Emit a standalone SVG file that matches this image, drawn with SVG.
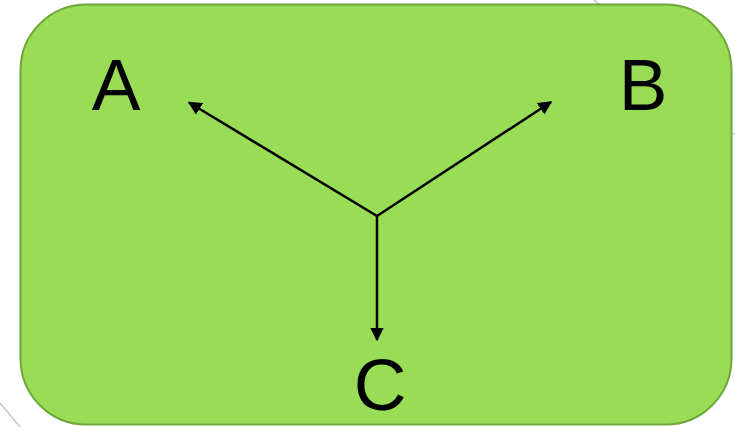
<svg xmlns="http://www.w3.org/2000/svg" width="735" height="427" viewBox="0 0 735 427">
<defs>
<style>
.lbl{font-family:"Liberation Sans",Arial,sans-serif;font-size:73px;fill:#000;text-anchor:middle}
.conn{stroke:#000;stroke-width:2.5;fill:none;marker-end:url(#ah)}
.bg{stroke:#c8c8c8;stroke-width:1.5;fill:none}
</style>
<marker id="ah" viewBox="0 0 10 10" refX="9" refY="5" markerWidth="5.5" markerHeight="5.5" orient="auto" markerUnits="strokeWidth">
<path d="M0,0 L10,5 L0,10 Z" fill="#000"/>
</marker>
</defs>
<g id="background">
<line class="bg" x1="593" y1="-1" x2="600" y2="5"/>
<line class="bg" x1="0" y1="403" x2="21" y2="428"/>
<line class="bg" x1="732" y1="133" x2="735" y2="134"/>
</g>
<g id="panel">
<rect x="20.5" y="4.5" width="711" height="420" rx="66" ry="66" fill="#99dc56" stroke="#6fa83a" stroke-width="2"/>
</g>
<g id="node-A"><text class="lbl" x="116" y="110">A</text></g>
<g id="node-B"><text class="lbl" x="643" y="110">B</text></g>
<g id="node-C"><text class="lbl" x="380" y="410">C</text></g>
<g id="connectors">
<line class="conn" x1="377" y1="216" x2="189" y2="102.5"/>
<line class="conn" x1="377" y1="216" x2="551" y2="102"/>
<line class="conn" x1="377" y1="216" x2="377" y2="340"/>
</g>
</svg>
